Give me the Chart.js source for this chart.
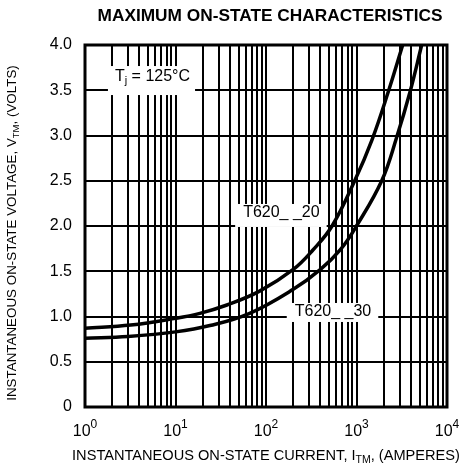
<!DOCTYPE html>
<html>
<head>
<meta charset="utf-8">
<script src="https://cdn.jsdelivr.net/npm/chart.js@4.4.0/dist/chart.umd.min.js"></script>
<style>
  html, body { margin: 0; padding: 0; background: #fff; }
  #wrap { width: 465px; height: 469px; position: relative; }
</style>
</head>
<body>
<div id="wrap"><canvas id="myChart"></canvas></div>
<script>
// Maximum on-state characteristics

// T620__20 curve
const current20 = [1, 3.2, 10, 18.6, 37, 85, 200, 330, 537, 955, 1480, 2240, 3240];
const voltage20 = [0.87, 0.905, 0.98, 1.035, 1.127, 1.28, 1.52, 1.735, 2.0, 2.5, 2.95, 3.48, 4.0];

// T620__30 curve
const current30 = [1, 3, 10, 24, 66, 200, 400, 660, 1000, 1900, 2780, 3900, 5250];
const voltage30 = [0.76, 0.78, 0.83, 0.90, 1.035, 1.30, 1.52, 1.735, 2.0, 2.5, 2.98, 3.48, 4.0];

// Axis ticks
const xDecades = [1, 10, 100, 1000, 10000];
const xExponents = ['0', '1', '2', '3', '4'];
const yTicks = [0, 0.5, 1.0, 1.5, 2.0, 2.5, 3.0, 3.5, 4.0];
const yTickLabels = ['0', '0.5', '1.0', '1.5', '2.0', '2.5', '3.0', '3.5', '4.0'];

const FONT = "'Liberation Sans', Arial, sans-serif";

// draw a run of text pieces [text, size, dy, bold] centred on x
function drawRich(ctx, parts, x, y) {
    let total = 0;
    parts.forEach(p => {
        ctx.font = (p[3] ? 'bold ' : '') + p[1] + 'px ' + FONT;
        total += ctx.measureText(p[0]).width;
    });
    let cx = x - total / 2;
    ctx.textAlign = 'left';
    ctx.textBaseline = 'middle';
    parts.forEach(p => {
        ctx.font = (p[3] ? 'bold ' : '') + p[1] + 'px ' + FONT;
        ctx.fillText(p[0], cx, y + p[2]);
        cx += ctx.measureText(p[0]).width;
    });
    return total;
}

// labels sitting on the grid, each with a white box behind it
const curveLabels = [
    { parts: [['T', 16, 0], ['j', 11, 4], [' = 125°C', 16, 0]], x: 5.57, y: 3.646, box: [7, 5, 11, 18] },
    { parts: [['T620_ _20', 16, 0]], x: 148, y: 2.144, box: [8, 7, 9, 14] },
    { parts: [['T620_ _30', 16, 0]], x: 550, y: 1.05, box: [8, 7, 9, 10] }
];

const labelPlugin = {
    id: 'labels',
    beforeDatasetsDraw(chart) {
        const ctx = chart.ctx;
        const xs = chart.scales.x, ys = chart.scales.y;
        ctx.save();
        curveLabels.forEach(l => {
            const px = xs.getPixelForValue(l.x);
            const py = ys.getPixelForValue(l.y);
            let w = 0;
            l.parts.forEach(p => {
                ctx.font = p[1] + 'px ' + FONT;
                w += ctx.measureText(p[0]).width;
            });
            ctx.fillStyle = '#fff';
            ctx.fillRect(px - w / 2 - l.box[0], py - l.box[2], w + l.box[0] + l.box[1], l.box[2] + l.box[3]);
            ctx.fillStyle = '#000';
            drawRich(ctx, l.parts, px, py);
        });
        ctx.restore();
    },
    afterDraw(chart) {
        const ctx = chart.ctx;
        const area = chart.chartArea;
        const xs = chart.scales.x;
        ctx.save();
        // frame
        ctx.strokeStyle = '#000';
        ctx.lineWidth = 3;
        ctx.strokeRect(area.left, area.top, area.right - area.left, area.bottom - area.top);

        ctx.fillStyle = '#000';
        // x tick labels 10^n
        xDecades.forEach((v, i) => {
            const px = xs.getPixelForValue(v);
            drawRich(ctx, [['10', 16, 0], [xExponents[i], 12, -7]], px, area.bottom + 25);
        });

        // title
        drawRich(ctx, [['MAXIMUM ON-STATE CHARACTERISTICS', 17.3, 0, true]], 270, 16);

        // x axis title
        drawRich(ctx, [['INSTANTANEOUS ON-STATE CURRENT, I', 14.6, 0], ['TM', 10.5, 4], [', (AMPERES)', 14.6, 0]],
            (area.left + area.right) / 2, area.bottom + 49);

        // y axis title
        ctx.translate(12, 233);
        ctx.rotate(-Math.PI / 2);
        drawRich(ctx, [['INSTANTANEOUS ON-STATE VOLTAGE, V', 13.4, 0], ['TM', 9.5, 4], [', (VOLTS)', 13.4, 0]], 0, 0);
        ctx.restore();
    }
};

const curveStyle = {
    borderColor: '#000',
    borderWidth: 3.5,
    pointRadius: 0,
    fill: false,
    tension: 0.4
};

const data = {
    datasets: [
        Object.assign({ label: 'T620__20', data: current20.map((c, i) => ({ x: c, y: voltage20[i] })) }, curveStyle),
        Object.assign({ label: 'T620__30', data: current30.map((c, i) => ({ x: c, y: voltage30[i] })) }, curveStyle)
    ]
};

const config = {
    type: 'line',
    data: data,
    options: {
        responsive: true,
        maintainAspectRatio: false,
        animation: false,
        events: [],
        layout: { padding: { top: 45, right: 18, bottom: 0, left: 0 } },
        plugins: {
            legend: { display: false },
            tooltip: { enabled: false }
        },
        scales: {
            x: {
                type: 'logarithmic',
                min: xDecades[0],
                max: xDecades[xDecades.length - 1],
                afterFit: (scale) => { scale.height = 62; },
                afterBuildTicks: (scale) => {
                    const ticks = [];
                    for (let d = 0; d < xDecades.length - 1; d++) {
                        for (let m = 1; m < 10; m++) ticks.push({ value: xDecades[d] * m });
                    }
                    ticks.push({ value: xDecades[xDecades.length - 1] });
                    scale.ticks = ticks;
                },
                ticks: { display: false, autoSkip: false },
                grid: { color: '#000', lineWidth: 2, drawTicks: false },
                border: { display: false }
            },
            y: {
                type: 'linear',
                min: yTicks[0],
                max: yTicks[yTicks.length - 1],
                afterFit: (scale) => { scale.width = 85; },
                afterBuildTicks: (scale) => {
                    scale.ticks = yTicks.map(v => ({ value: v }));
                },
                ticks: {
                    color: '#000',
                    padding: 13,
                    font: { family: FONT, size: 16 },
                    callback: (v) => yTickLabels[yTicks.indexOf(v)]
                },
                grid: { color: '#000', lineWidth: 2, drawTicks: false },
                border: { display: false }
            }
        }
    },
    plugins: [labelPlugin]
};

const ctx = document.getElementById('myChart').getContext('2d');
const myChart = new Chart(ctx, config);
</script>
</body>
</html>
